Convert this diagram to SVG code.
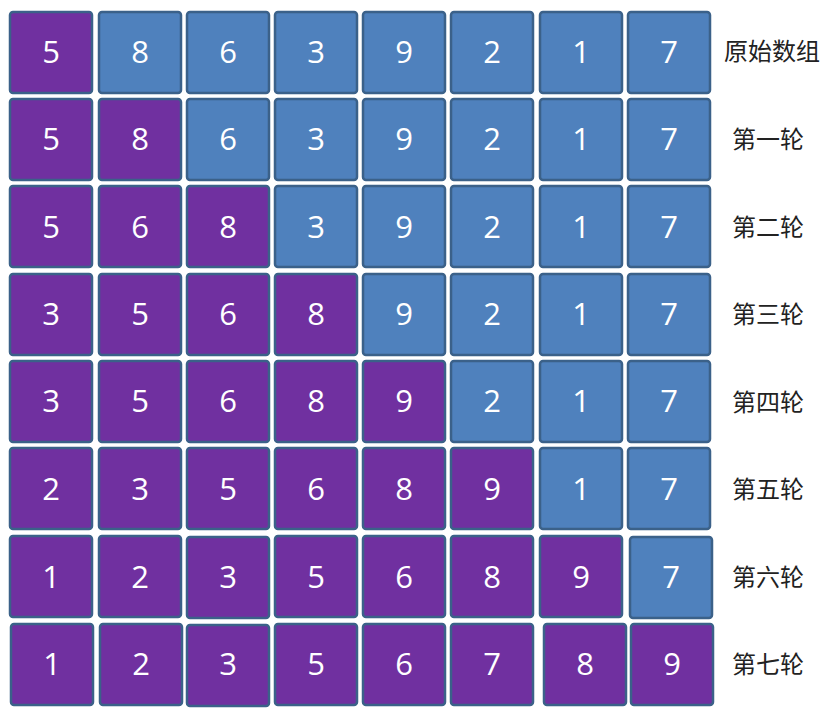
<svg xmlns="http://www.w3.org/2000/svg" width="838" height="717" viewBox="0 0 838 717">
<style>
.b rect{stroke:#3b6189;stroke-width:2.5}
.p{fill:#7030a0}
.u{fill:#4f81bd}
.b text{fill:#fff;font-family:"Open Sans","Liberation Sans",sans-serif;font-size:31px;text-anchor:middle}
.l{fill:#222;font-family:"Noto Sans CJK SC",sans-serif;font-size:24px;text-anchor:middle}
</style>
<rect width="838" height="717" fill="#fff"/>
<g id="row0" class="b">
<rect class="p" x="10" y="12" width="82" height="81" rx="3"/><text x="51" y="63">5</text>
<rect class="u" x="99" y="12" width="82" height="81" rx="3"/><text x="140" y="63">8</text>
<rect class="u" x="187" y="12" width="82" height="81" rx="3"/><text x="228" y="63">6</text>
<rect class="u" x="275" y="12" width="82" height="81" rx="3"/><text x="316" y="63">3</text>
<rect class="u" x="363" y="12" width="82" height="81" rx="3"/><text x="404" y="63">9</text>
<rect class="u" x="451" y="12" width="82" height="81" rx="3"/><text x="492" y="63">2</text>
<rect class="u" x="540" y="12" width="82" height="81" rx="3"/><text x="581" y="63">1</text>
<rect class="u" x="628" y="12" width="82" height="81" rx="3"/><text x="669" y="63">7</text>
</g>
<g id="row1" class="b">
<rect class="p" x="10" y="99" width="82" height="81" rx="3"/><text x="51" y="150">5</text>
<rect class="p" x="99" y="99" width="82" height="81" rx="3"/><text x="140" y="150">8</text>
<rect class="u" x="187" y="99" width="82" height="81" rx="3"/><text x="228" y="150">6</text>
<rect class="u" x="275" y="99" width="82" height="81" rx="3"/><text x="316" y="150">3</text>
<rect class="u" x="363" y="99" width="82" height="81" rx="3"/><text x="404" y="150">9</text>
<rect class="u" x="451" y="99" width="82" height="81" rx="3"/><text x="492" y="150">2</text>
<rect class="u" x="540" y="99" width="82" height="81" rx="3"/><text x="581" y="150">1</text>
<rect class="u" x="628" y="99" width="82" height="81" rx="3"/><text x="669" y="150">7</text>
</g>
<g id="row2" class="b">
<rect class="p" x="10" y="186" width="82" height="81" rx="3"/><text x="51" y="238">5</text>
<rect class="p" x="99" y="186" width="82" height="81" rx="3"/><text x="140" y="238">6</text>
<rect class="p" x="187" y="186" width="82" height="81" rx="3"/><text x="228" y="238">8</text>
<rect class="u" x="275" y="186" width="82" height="81" rx="3"/><text x="316" y="238">3</text>
<rect class="u" x="363" y="186" width="82" height="81" rx="3"/><text x="404" y="238">9</text>
<rect class="u" x="451" y="186" width="82" height="81" rx="3"/><text x="492" y="238">2</text>
<rect class="u" x="540" y="186" width="82" height="81" rx="3"/><text x="581" y="238">1</text>
<rect class="u" x="628" y="186" width="82" height="81" rx="3"/><text x="669" y="238">7</text>
</g>
<g id="row3" class="b">
<rect class="p" x="10" y="274" width="82" height="81" rx="3"/><text x="51" y="325">3</text>
<rect class="p" x="99" y="274" width="82" height="81" rx="3"/><text x="140" y="325">5</text>
<rect class="p" x="187" y="274" width="82" height="81" rx="3"/><text x="228" y="325">6</text>
<rect class="p" x="275" y="274" width="82" height="81" rx="3"/><text x="316" y="325">8</text>
<rect class="u" x="363" y="274" width="82" height="81" rx="3"/><text x="404" y="325">9</text>
<rect class="u" x="451" y="274" width="82" height="81" rx="3"/><text x="492" y="325">2</text>
<rect class="u" x="540" y="274" width="82" height="81" rx="3"/><text x="581" y="325">1</text>
<rect class="u" x="628" y="274" width="82" height="81" rx="3"/><text x="669" y="325">7</text>
</g>
<g id="row4" class="b">
<rect class="p" x="10" y="361" width="82" height="81" rx="3"/><text x="51" y="412">3</text>
<rect class="p" x="99" y="361" width="82" height="81" rx="3"/><text x="140" y="412">5</text>
<rect class="p" x="187" y="361" width="82" height="81" rx="3"/><text x="228" y="412">6</text>
<rect class="p" x="275" y="361" width="82" height="81" rx="3"/><text x="316" y="412">8</text>
<rect class="p" x="363" y="361" width="82" height="81" rx="3"/><text x="404" y="412">9</text>
<rect class="u" x="451" y="361" width="82" height="81" rx="3"/><text x="492" y="412">2</text>
<rect class="u" x="540" y="361" width="82" height="81" rx="3"/><text x="581" y="412">1</text>
<rect class="u" x="628" y="361" width="82" height="81" rx="3"/><text x="669" y="412">7</text>
</g>
<g id="row5" class="b">
<rect class="p" x="10" y="448" width="82" height="81" rx="3"/><text x="51" y="500">2</text>
<rect class="p" x="99" y="448" width="82" height="81" rx="3"/><text x="140" y="500">3</text>
<rect class="p" x="187" y="448" width="82" height="81" rx="3"/><text x="228" y="500">5</text>
<rect class="p" x="275" y="448" width="82" height="81" rx="3"/><text x="316" y="500">6</text>
<rect class="p" x="363" y="448" width="82" height="81" rx="3"/><text x="404" y="500">8</text>
<rect class="p" x="451" y="448" width="82" height="81" rx="3"/><text x="492" y="500">9</text>
<rect class="u" x="540" y="448" width="82" height="81" rx="3"/><text x="581" y="500">1</text>
<rect class="u" x="628" y="448" width="82" height="81" rx="3"/><text x="669" y="500">7</text>
</g>
<g id="row6" class="b">
<rect class="p" x="10" y="536" width="82" height="81" rx="3"/><text x="51" y="588">1</text>
<rect class="p" x="99" y="536" width="82" height="81" rx="3"/><text x="140" y="588">2</text>
<rect class="p" x="187" y="537" width="82" height="81" rx="3"/><text x="228" y="588">3</text>
<rect class="p" x="275" y="536" width="82" height="81" rx="3"/><text x="316" y="588">5</text>
<rect class="p" x="363" y="536" width="82" height="81" rx="3"/><text x="404" y="588">6</text>
<rect class="p" x="451" y="536" width="82" height="81" rx="3"/><text x="492" y="588">8</text>
<rect class="p" x="540" y="536" width="82" height="81" rx="3"/><text x="581" y="588">9</text>
<rect class="u" x="630" y="537" width="82" height="81" rx="3"/><text x="671" y="588">7</text>
</g>
<g id="row7" class="b">
<rect class="p" x="11" y="624" width="82" height="81" rx="3"/><text x="52" y="675">1</text>
<rect class="p" x="100" y="624" width="82" height="81" rx="3"/><text x="141" y="675">2</text>
<rect class="p" x="187" y="625" width="82" height="81" rx="3"/><text x="228" y="675">3</text>
<rect class="p" x="275" y="624" width="82" height="81" rx="3"/><text x="316" y="675">5</text>
<rect class="p" x="363" y="624" width="82" height="81" rx="3"/><text x="404" y="675">6</text>
<rect class="p" x="451" y="624" width="82" height="81" rx="3"/><text x="492" y="675">7</text>
<rect class="p" x="544" y="624" width="82" height="81" rx="3"/><text x="585" y="675">8</text>
<rect class="p" x="631" y="624" width="82" height="81" rx="3"/><text x="672" y="675">9</text>
</g>
<g id="labels">
<text class="l" x="772" y="60">原始数组</text>
<text class="l" x="768" y="148">第一轮</text>
<text class="l" x="768" y="236">第二轮</text>
<text class="l" x="768" y="323">第三轮</text>
<text class="l" x="768" y="411">第四轮</text>
<text class="l" x="768" y="498">第五轮</text>
<text class="l" x="768" y="586">第六轮</text>
<text class="l" x="768" y="673">第七轮</text>
</g>
</svg>
